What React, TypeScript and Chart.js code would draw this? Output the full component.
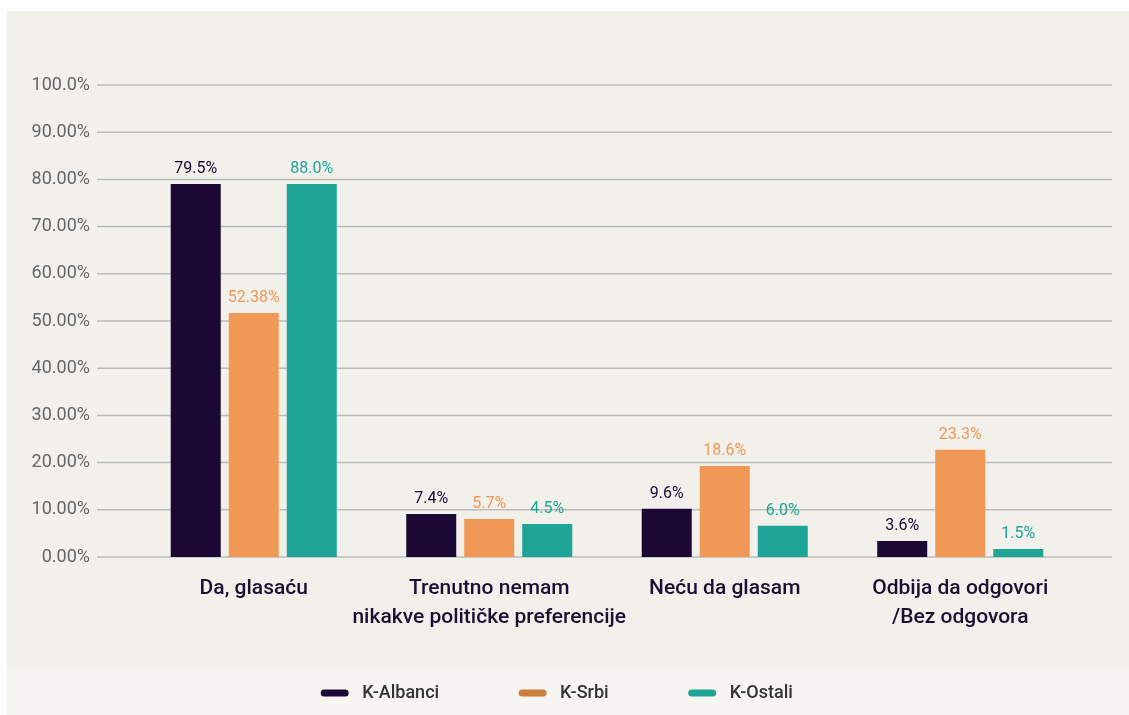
import React, { useEffect, useRef } from "react";
import { Chart, registerables } from "chart.js";

Chart.register(...registerables);

const categories: string[][] = [
  ["Da, glasaću"],
  ["Trenutno nemam", "nikakve političke preferencije"],
  ["Neću da glasam"],
  ["Odbija da odgovori", "/Bez odgovora"],
];
const seriesNames = ["K-Albanci", "K-Srbi", "K-Ostali"];
const albanciValues = [79.0, 9.1, 10.2, 3.4];
const srbiValues = [51.7, 8.05, 19.3, 22.7];
const ostaliValues = [79.0, 7.0, 6.6, 1.7];
const albanciLabels = ["79.5%", "7.4%", "9.6%", "3.6%"];
const srbiLabels = ["52.38%", "5.7%", "18.6%", "23.3%"];
const ostaliLabels = ["88.0%", "4.5%", "6.0%", "1.5%"];
const yTickValues = [0, 10, 20, 30, 40, 50, 60, 70, 80, 90, 100];
const yTickLabels = ["0.00%", "10.00%", "20.00%", "30.00%", "40.00%", "50.00%", "60.00%", "70.00%", "80.00%", "90.00%", "100.0%"];

const barColors = ["#1b0833", "#f09855", "#1fa595"];
const valueLabelColors = ["#1b0833", "#f09855", "#1fa595"];
const legendColors = ["#1b0833", "#cd7f40", "#1fa595"];
const FONT = "Roboto, 'DejaVu Sans', sans-serif";

const W = 1122;
const H = 704;

export default function App() {
  const ref = useRef<HTMLCanvasElement | null>(null);

  useEffect(() => {
    if (!ref.current) return;
    const allLabels = [albanciLabels, srbiLabels, ostaliLabels];

    const bgPlugin = {
      id: "bg",
      beforeDraw(chart: any) {
        const { ctx, width, height } = chart;
        ctx.save();
        ctx.fillStyle = "#f1f0eb";
        ctx.fillRect(0, 0, width, height);
        ctx.fillStyle = "#f6f5f1";
        ctx.fillRect(0, 659, width, height - 659);
        ctx.restore();
      },
    };

    const gridPlugin = {
      id: "grid",
      beforeDatasetsDraw(chart: any) {
        const { ctx, chartArea } = chart;
        const ys = chart.scales.y;
        ctx.save();
        ctx.strokeStyle = "#bcbcbc";
        ctx.lineWidth = 1.5;
        yTickValues.forEach((v) => {
          const py = ys.getPixelForValue(v);
          ctx.beginPath();
          ctx.moveTo(chartArea.left - 39, py);
          ctx.lineTo(chartArea.right + 34, py);
          ctx.stroke();
        });
        ctx.restore();
      },
    };

    const valueLabelPlugin = {
      id: "valueLabels",
      afterDatasetsDraw(chart: any) {
        const { ctx } = chart;
        ctx.save();
        ctx.font = `16px ${FONT}`;
        ctx.textAlign = "center";
        ctx.textBaseline = "bottom";
        chart.data.datasets.forEach((_ds: any, di: number) => {
          const meta = chart.getDatasetMeta(di);
          ctx.fillStyle = valueLabelColors[di];
          meta.data.forEach((bar: any, i: number) => {
            ctx.fillText(allLabels[di][i], bar.x, bar.y - 7);
          });
        });
        ctx.restore();
      },
    };

    const legendPlugin = {
      id: "customLegend",
      afterDraw(chart: any) {
        const { ctx } = chart;
        ctx.save();
        ctx.font = `500 18px ${FONT}`;
        const sw = 27;
        const gap = 14;
        const spacing = 80;
        const names = chart.data.datasets.map((d: any) => d.label);
        const widths = names.map((n: string) => sw + gap + ctx.measureText(n).width);
        const total = widths.reduce((a: number, b: number) => a + b, 0) + spacing * (names.length - 1);
        let x = 550 - total / 2;
        const y = 682;
        names.forEach((n: string, i: number) => {
          ctx.strokeStyle = legendColors[i];
          ctx.lineWidth = 7;
          ctx.lineCap = "round";
          ctx.beginPath();
          ctx.moveTo(x + 3, y);
          ctx.lineTo(x + sw - 3, y);
          ctx.stroke();
          ctx.fillStyle = "#333333";
          ctx.textAlign = "left";
          ctx.textBaseline = "middle";
          ctx.fillText(n, x + sw + gap, y);
          x += widths[i] + spacing;
        });
        ctx.restore();
      },
    };

    const chart = new Chart(ref.current, {
      type: "bar",
      data: {
        labels: categories,
        datasets: [
          { label: seriesNames[0], data: albanciValues, backgroundColor: barColors[0] },
          { label: seriesNames[1], data: srbiValues, backgroundColor: barColors[1] },
          { label: seriesNames[2], data: ostaliValues, backgroundColor: barColors[2] },
        ],
      },
      options: {
        responsive: false,
        animation: false,
        devicePixelRatio: 1,
        layout: { padding: { top: 74, bottom: 50, left: 0, right: 51 } },
        datasets: {
          bar: { categoryPercentage: 0.739, barPercentage: 0.862 },
        } as any,
        plugins: {
          legend: { display: false },
          tooltip: { enabled: false },
        },
        scales: {
          x: {
            grid: { display: false, drawTicks: false },
            border: { display: false },
            ticks: {
              color: "#1b1033",
              font: { family: FONT, size: 21, weight: "500", lineHeight: 29 / 21 },
              padding: 17,
              maxRotation: 0,
              autoSkip: false,
            },
            afterFit: (scale: any) => {
              scale.height = 108;
            },
          },
          y: {
            min: 0,
            max: 100,
            afterBuildTicks: (scale: any) => {
              scale.ticks = yTickValues.map((v) => ({ value: v }));
            },
            grid: { display: false, drawTicks: false },
            border: { display: false },
            ticks: {
              color: "#666666",
              font: { family: FONT, size: 18 },
              padding: 46,
              callback: (_v: any, i: number) => yTickLabels[i],
            },
            afterFit: (scale: any) => {
              scale.width = 129;
            },
          },
        },
      },
      plugins: [bgPlugin, gridPlugin, valueLabelPlugin, legendPlugin],
    });
    return () => chart.destroy();
  }, []);

  return (
    <div style={{ position: "fixed", left: 7, top: 11, width: W, height: H }}>
      <canvas ref={ref} width={W} height={H} style={{ display: "block", width: W, height: H }} />
    </div>
  );
}
